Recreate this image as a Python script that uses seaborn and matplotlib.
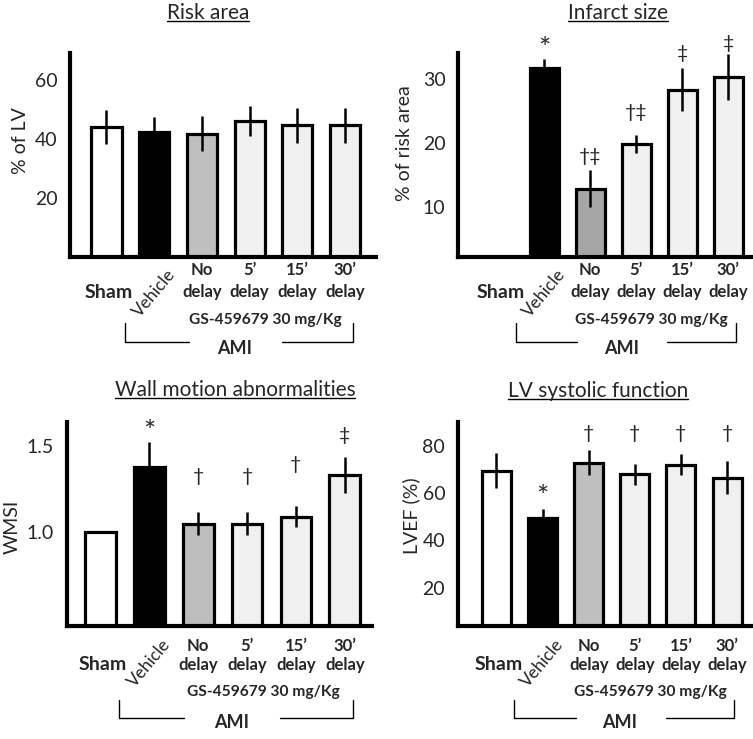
# Cardiac outcomes after AMI: four bar panels
import numpy as np
import pandas as pd
import matplotlib
matplotlib.use("Agg")
import matplotlib.pyplot as plt
import seaborn as sns
from matplotlib.lines import Line2D

# ---------------- data ----------------
groups = ["Sham", "Vehicle", "No delay", "5' delay", "15' delay", "30' delay"]

risk_area = [44.0, 42.2, 41.7, 46.0, 44.5, 44.5]
risk_area_err = [5.8, 5.3, 6.0, 5.2, 6.0, 6.0]
risk_area_marks = ["", "", "", "", "", ""]

infarct = [np.nan, 31.7, 12.9, 19.9, 28.3, 30.3]
infarct_err = [np.nan, 1.4, 2.9, 1.4, 3.3, 3.6]
infarct_marks = ["", "*", "†‡", "†‡", "‡", "‡"]

wmsi = [1.0, 1.38, 1.05, 1.05, 1.09, 1.33]
wmsi_err = [0.0, 0.14, 0.065, 0.065, 0.06, 0.105]
wmsi_marks = ["", "*", "†", "†", "†", "‡"]

lvef = [69.5, 49.4, 73.0, 68.0, 72.0, 66.5]
lvef_err = [7.5, 4.0, 5.5, 4.5, 4.5, 7.0]
lvef_marks = ["", "*", "†", "†", "†", "†"]

# ---------------- style ----------------
sns.set_style("white")
plt.rcParams["font.family"] = ["Lato", "DejaVu Sans"]

W, H = 753, 739
fig = plt.figure(figsize=(W / 100, H / 100), dpi=100)

black = "black"
light = "#f0f0f0"

panels = [
    dict(title="Risk area", vals=risk_area, err=risk_area_err, marks=risk_area_marks,
         ylabel="% of LV", ticks=[20, 40, 60], ticklab=["20", "40", "60"], ylim=(0, 69),
         box=(70, 376, 53, 257), xlim=(-0.765, 5.65), tpos=(208, 13),
         ylab_x=20, ylab_y=0.57, grey="#bfbfbf", mark_y=[None] * 6, row=0),
    dict(title="Infarct size", vals=infarct, err=infarct_err, marks=infarct_marks,
         ylabel="% of risk area", ticks=[10, 20, 30], ticklab=["10", "20", "30"],
         ylim=(2.3, 34.0), box=(458, 753, 53, 257), xlim=(-0.87, 5.54), tpos=(618, 13),
         ylab_x=404, ylab_y=0.56, grey="#a6a6a6",
         mark_y=[None, 35.8, 17.9, 24.7, 34.0, 35.5], row=0),
    dict(title="Wall motion abnormalities", vals=wmsi, err=wmsi_err, marks=wmsi_marks,
         ylabel="WMSI", ticks=[1.0, 1.5], ticklab=["1.0", "1.5"], ylim=(0.457, 1.64),
         box=(66.7, 371.7, 421.7, 626), xlim=(-0.69, 5.55), tpos=(235, 390),
         ylab_x=12, ylab_y=0.486, grey="#bdbdbd",
         mark_y=[None, 1.62, 1.32, 1.32, 1.39, 1.56], row=1),
    dict(title="LV systolic function", vals=lvef, err=lvef_err, marks=lvef_marks,
         ylabel="LVEF (%)", ticks=[20, 40, 60, 80], ticklab=["20", "40", "60", "80"],
         ylim=(3.7, 90.3), box=(457.7, 752, 421.7, 626), xlim=(-0.84, 5.54), tpos=(598, 391),
         ylab_x=411, ylab_y=0.54, grey="#bfbfbf",
         mark_y=[None, 61.4, 85.4, 85.4, 85.4, 85.4], row=1),
]

# vertical offsets (px below baseline) of the category texts, per row
row_off = [
    dict(l1=13, l2=35, sham=35, veh=36, gs=63, ami=91, br=(66, 85)),
    dict(l1=20, l2=39, sham=39, veh=37, gs=66, ami=97, br=(74, 92)),
]

titles = []
for p in panels:
    l, r, t, b = p["box"]
    ax = fig.add_axes([l / W, 1 - b / H, (r - l) / W, (b - t) / H])
    hpx = b - t
    wpx = r - l

    df = pd.DataFrame({"group": groups, "value": p["vals"]})
    colors = dict(zip(groups, ["white", black, p["grey"], light, light, light]))
    sns.barplot(data=df, x="group", y="value", hue="group", palette=colors,
                order=groups, legend=False, errorbar=None, width=0.63,
                edgecolor=black, linewidth=2.3, ax=ax)

    xs = np.arange(len(groups))
    ax.errorbar(xs, p["vals"], yerr=p["err"], fmt="none", ecolor=black,
                elinewidth=1.8, capsize=0, zorder=5)

    for i, m in enumerate(p["marks"]):
        if not m:
            continue
        if m == "*":
            ax.annotate(m, xy=(i, p["mark_y"][i]), xytext=(0, -6),
                        textcoords="offset points", ha="center", va="center",
                        fontsize=21, annotation_clip=False)
        else:
            ax.text(i, p["mark_y"][i], m, ha="center", va="center",
                    fontsize=14, clip_on=False)

    ax.set_xlim(*p["xlim"])
    ax.set_ylim(*p["ylim"])
    ax.set_yticks(p["ticks"])
    ax.set_yticklabels(p["ticklab"])
    ax.set_xticks([])
    ax.set_xlabel("")
    ax.set_ylabel(p["ylabel"], fontsize=14, va="center")
    ax.yaxis.set_label_coords((p["ylab_x"] - l) / wpx, p["ylab_y"])
    ax.tick_params(axis="y", length=0, pad=9, labelsize=14)
    sns.despine(ax=ax)
    for side in ["left", "bottom"]:
        ax.spines[side].set_linewidth(3)
        ax.spines[side].set_color(black)

    # category labels under the axis
    o = row_off[p["row"]]
    tr = ax.get_xaxis_transform()
    ax.text(0.05, -o["sham"] / hpx, "Sham", transform=tr, ha="center", va="center",
            fontsize=14, fontweight="bold")
    ax.text(1.0, -o["veh"] / hpx, "Vehicle", transform=tr, ha="center", va="center",
            fontsize=12.5, rotation=50, rotation_mode="anchor")
    for i, top in zip(range(2, 6), ["No", "5’", "15’", "30’"]):
        ax.text(i, -o["l1"] / hpx, top, transform=tr, ha="center", va="center",
                fontsize=12, fontweight="bold")
        ax.text(i, -o["l2"] / hpx, "delay", transform=tr, ha="center", va="center",
                fontsize=12, fontweight="bold")
    ax.text(3.33, -o["gs"] / hpx, "GS-459679 30 mg/Kg", transform=tr, ha="center",
            va="center", fontsize=11.2, fontweight="bold")
    ax.text(2.68, -o["ami"] / hpx, "AMI", transform=tr, ha="center", va="center",
            fontsize=13, fontweight="bold")
    y1, y2 = -o["br"][0] / hpx, -o["br"][1] / hpx
    ax.plot([0.38, 0.38, 1.72], [y1, y2, y2], transform=tr, color=black, lw=1,
            clip_on=False)
    ax.plot([3.67, 5.16, 5.16], [y2, y2, y1], transform=tr, color=black, lw=1,
            clip_on=False)

    tx, ty = p["tpos"]
    titles.append(fig.text(tx / W, 1 - ty / H, p["title"], ha="center", va="center",
                           fontsize=15))

# underline the titles
fig.canvas.draw()
renderer = fig.canvas.get_renderer()
for t in titles:
    bb = t.get_window_extent(renderer)
    yline = bb.y0 + 2
    fig.add_artist(Line2D([bb.x0 / W, bb.x1 / W], [yline / H, yline / H],
                          transform=fig.transFigure, color=black, lw=1))

fig.savefig("out.png", dpi=100)
